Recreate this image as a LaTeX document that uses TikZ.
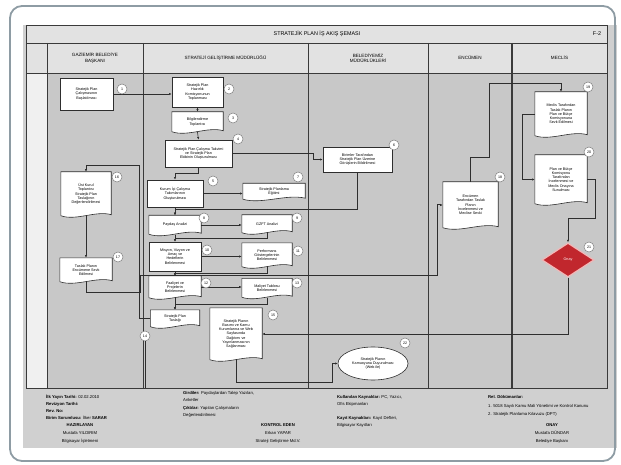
\documentclass[tikz,border=0pt]{standalone}
\usepackage{fontspec}
\setmainfont{Liberation Sans}
\usetikzlibrary{calc,shapes.geometric,arrows.meta}
\pgfdeclarelayer{bg}\pgfdeclarelayer{docbg}
\pgfsetlayers{bg,docbg,main}
\definecolor{framec}{HTML}{8E9CA4}
\definecolor{pagec}{HTML}{D0D0D0}
\definecolor{bodyc}{HTML}{C8C8C8}
\definecolor{headc}{HTML}{E2E2E2}
\definecolor{stripc}{HTML}{F0F0F0}
\definecolor{linec}{HTML}{3A3A3A}
\definecolor{connc}{HTML}{2E2E2E}
\definecolor{redc}{HTML}{C1272D}
\definecolor{glowc}{HTML}{F2B8B8}
\tikzset{
 every node/.style={font=\fontsize{3.7}{4.3}\selectfont},
 proc/.style={draw=connc, fill=white, line width=0.6pt, align=center, inner sep=0.5pt},
 docn/.style={align=center, inner sep=0.5pt},
 sz/.style 2 args={minimum width=#1pt, minimum height=#2pt},
 num/.style={circle, draw=gray, fill=white, line width=0.5pt, minimum size=10pt, inner sep=0pt, font=\fontsize{3.6}{4}\selectfont},
 conn/.style={draw=connc, line width=0.6pt, -{Latex[length=2.6pt,width=2.2pt]}},
 plainc/.style={draw=connc, line width=0.6pt},
 docstyle/.style={draw=connc, fill=white, line width=0.6pt},
 grid/.style={draw=linec, line width=0.9pt},
 hdr/.style={align=center, font=\fontsize{4.6}{5.4}\selectfont},
 foot/.style={anchor=west, font=\fontsize{4.2}{5}\selectfont, inner sep=0pt},
 footc/.style={anchor=center, font=\fontsize{4.2}{5}\selectfont, inner sep=0pt},
}
\newcommand\docpath[1]{%
 \begin{pgfonlayer}{docbg}
 \draw[docstyle] (#1.north west) -- (#1.north east) -- ($(#1.south east)+(0,-1.5)$)
  .. controls ($(#1.south east)!0.3!(#1.south west)+(0,-6)$) and ($(#1.south east)!0.7!(#1.south west)+(0,5)$) ..
  ($(#1.south west)+(0,-0.5)$) -- cycle;
 \end{pgfonlayer}}
\begin{document}
\begin{tikzpicture}[x=1pt,y=-1pt]
\useasboundingbox (0,0) rectangle (621,465);
% page and table
\begin{pgfonlayer}{bg}
\fill[white] (0,0) rectangle (621,465);
\fill[pagec] (23,25) rectangle (617,448);
\fill[headc] (26,25) rectangle (607,73);
\fill[bodyc] (47,73) rectangle (607,388);
\fill[stripc] (26,73) rectangle (47,388);
\draw[grid] (26,25) rectangle (607,388);
\draw[grid] (26,43) -- (607,43);
\draw[grid] (26,73) -- (607,73);
\draw[grid] (47,43) -- (47,388);
\draw[grid] (143,43) -- (143,388);
\draw[grid] (308,43) -- (308,388);
\draw[grid] (428,43) -- (428,388);
\draw[grid, line width=1.4pt] (512,43) -- (512,388);
\end{pgfonlayer}
\draw[framec, line width=1.8pt, rounded corners=12pt] (10,6) rectangle (615,461);
% title and headers
\node[font=\fontsize{5.4}{6.4}\selectfont] (title) at (317,34) {STRATEJİK PLAN İŞ AKIŞ ŞEMASI};
\node[font=\fontsize{5.4}{6.4}\selectfont] (code) at (597,34) {F-2};
\node[hdr] (h1) at (95,58) {GAZİEMİR BELEDİYE\\BAŞKANI};
\node[hdr] (h2) at (225.5,58) {STRATEJİ GELİŞTİRME MÜDÜRLÜĞÜ};
\node[hdr] (h3) at (368,58) {BELEDİYEMİZ\\MÜDÜRLÜKLERİ};
\node[hdr] (h4) at (470,58) {ENCÜMEN};
\node[hdr] (h5) at (559.5,58) {MECLİS};
% process nodes
\node[proc, sz={53}{32}] (n1) at (86.5,94) {Stratejik Plan\\Çalışmasının\\Başlatılması};
\node[proc, sz={51}{30}] (n2) at (197.5,92) {Stratejik Plan\\Hazırlık\\Komisyonunun\\Toplanması};
\node[docn, sz={51}{20}] (n3) at (197.5,122) {Bilgilendirme\\Toplantısı};
\node[proc, sz={67}{27}] (n4) at (198.5,153.5) {Stratejik Plan Çalışma Takvimi\\ve Stratejik Plan\\Ekibinin Oluşturulması};
\node[proc, sz={56}{27}] (n5) at (175,193.5) {Kurum İçi Çalışma\\Takımlarının\\Oluşturulması};
\node[proc, sz={69}{25}] (n6) at (357.5,159.5) {Birimler Tarafından\\Stratejik Plan Üzerine\\Görüşlerin Bildirilmesi};
\node[docn, sz={62}{16}] (n7) at (274,191.5) {Stratejik Planlama\\Eğitimi};
\node[docn, sz={52}{19}] (n8) at (175,225) {Paydaş Analizi};
\node[docn, sz={50}{18}] (n9) at (267,224) {GZFT Analizi};
\node[proc, sz={52}{29}] (n10) at (175,256.5) {Misyon, Vizyon ve\\Amaç ve\\Hedeflerin\\Belirlenmesi};
\node[docn, sz={50}{24}] (n11) at (267,255) {Performans\\Göstergelerinin\\Belirlenmesi};
\node[docn, sz={52}{22}] (n12) at (175,287) {Faaliyet ve\\Projelerin\\Belirlenmesi};
\node[docn, sz={50}{19}] (n13) at (267,288) {Maliyet Tablosu\\Belirlenmesi};
\node[docn, sz={49}{17}] (n14) at (175,318.5) {Stratejik Plan\\Taslağı};
\node[docn, sz={52}{52}] (n15) at (236,334) {Stratejik Planın\\Basımı ve Kamu\\Kurumlarına ve Web\\Sayfasında\\Dağıtımı ve\\Yayınlanmasının\\Sağlanması};
\node[docn, sz={50}{44}] (n16) at (86,194) {Üst Kurul\\Toplantısı\\Stratejik Plan\\Taslağının\\Değerlendirilmesi};
\node[docn, sz={52}{24}] (n17) at (86,270) {Taslak Planın\\Encümene Sevk\\Edilmesi};
\node[docn, sz={55}{46}] (n18) at (470.5,205) {Encümen\\Tarafından Taslak\\Planın\\İncelenmesi ve\\Meclise Sevki};
\node[docn, sz={52}{44}] (n19) at (561,114) {Meclis Tarafından\\Taslak Planın\\Plan ve Bütçe\\Komisyonuna\\Sevk Edilmesi};
\node[docn, sz={52}{49}] (n20) at (561,179.5) {Plan ve Bütçe\\Komisyonu\\Tarafından\\İncelenmesi ve\\Meclis Onayına\\Sunulması};
\node[diamond, fill=redc, draw=glowc, line width=1.2pt, aspect=1.6, inner sep=0pt, sz={52}{34}, text=white] (n21) at (568,260) {Onay};
\node[ellipse, draw=connc, fill=white, line width=0.6pt, align=center, inner sep=0pt, sz={70}{33}] (n22) at (373,363.5) {Stratejik Planın\\Kamuoyuna Duyurulması\\(Web ile)};
\docpath{n3}\docpath{n7}\docpath{n8}\docpath{n9}\docpath{n11}\docpath{n12}\docpath{n13}
\docpath{n14}\docpath{n15}\docpath{n16}\docpath{n17}\docpath{n18}\docpath{n19}\docpath{n20}
% connectors
\draw[conn] (n1) -- (n1 -| n2.west);
\draw[conn] (n2.south) -- (n3.north);
\draw[conn] (n3.south) -- (n4.north);
\draw[conn] (n4.east) -- ++(81,0) |- (n6.west);
\draw[conn] (n4.south) -- ++(0,6) -| (n5.north);
\draw[conn] (n5.east) -- (n5.east -| n7.west);
\draw[conn] (n5.south) -- (n8.north);
\draw[conn] (n6.south) |- (175,209) -- (n8.north);
\draw[conn] (n8.east) -- (n8.east -| n9.west);
\draw[conn] (n8.south) -- (n10.north);
\draw[conn] (n9.south) |- (175,238) -- (n10.north);
\draw[conn] (n10.east) -- (n10.east -| n11.west);
\draw[conn] (n10.south) -- (n12.north);
\draw[conn] (n11.south) |- (175,273) -- (n12.north);
\draw[conn] (n12.east) -- (n12.east -| n13.west);
\draw[conn] (n12.south) -- (n14.north);
\draw[conn] (n13.south) |- (175,304) -- (n14.north);
\draw[conn] (n14.west) -| (139,165) -| (n16.north);
\draw[conn] (n16.south) -- (n17.north);
\draw[conn, line width=1pt] (n17.south) |- (140,292) |- (437,275) |- (n18.west);
\draw[conn] (n18.north) |- (489,157) |- (561,83) -- (n19.north);
\draw[conn] (n19.west) -- ++(-13,0) |- (n20.west);
\draw[conn] (n20.east) -- ++(8,0) |- (568,218) -- (n21.north);
\draw[conn] (n21.south) |- (n15.east);
\draw[conn] (n15.south) |- (332,382) |- (n22.west);
% numbers
\node[num] (k1) at (122,89) {1};
\node[num] (k2) at (229,89) {2};
\node[num] (k3) at (233,118) {3};
\node[num] (k4) at (238,139) {4};
\node[num] (k5) at (213,181) {5};
\node[num] (k6) at (394,145) {6};
\node[num] (k7) at (298,177) {7};
\node[num] (k8) at (204,218) {8};
\node[num] (k9) at (297,218) {9};
\node[num] (k10) at (207,250) {10};
\node[num] (k11) at (298,251) {11};
\node[num] (k12) at (206,283) {12};
\node[num] (k13) at (297,283) {13};
\node[num] (k14) at (145,336) {14};
\node[num] (k15) at (273,315) {15};
\node[num] (k16) at (117,177) {16};
\node[num] (k17) at (118,257) {17};
\node[num] (k18) at (500,177) {18};
\node[num] (k19) at (588,87) {19};
\node[num] (k20) at (589,152) {20};
\node[num] (k21) at (589,247) {21};
\node[num] (k22) at (405,343) {22};
\draw[plainc] (k14.south) -- (145,388);
% footer
\node[foot] (f1) at (46,397) {\textbf{İlk Yayın Tarihi:} 02.02.2010};
\node[foot] (f2) at (46,404) {\textbf{Revizyon Tarihi:}};
\node[foot] (f3) at (46,411) {\textbf{Rev. No:}};
\node[foot] (f4) at (46,418) {\textbf{Birim Sorumlusu:} İlker \textbf{SARAR}};
\node[footc] (f5) at (80,425) {\textbf{HAZIRLAYAN}};
\node[footc] (f6) at (80,433) {Mustafa YILDIRIM};
\node[footc] (f7) at (80,441) {Bilgisayar İşletmeni};
\node[foot] (g1) at (183,393) {\textbf{Girdiler:} Paydaşlardan Talep Yazıları,};
\node[foot] (g2) at (183,400) {Anketler};
\node[foot] (g3) at (183,408) {\textbf{Çıktılar:} Yapılan Çalışmaların};
\node[foot] (g4) at (183,415) {Değerlendirilmesi};
\node[footc] (g5) at (278,425) {\textbf{KONTROL EDEN}};
\node[footc] (g6) at (278,433) {Erkan YAPAR};
\node[footc] (g7) at (278,441) {Strateji Geliştirme Md.V.};
\node[foot] (h1f) at (337,397) {\textbf{Kullanılan Kaynaklar:} PC, Yazıcı,};
\node[foot] (h2f) at (337,404) {Ofis Ekipmanları};
\node[foot] (h3f) at (337,418) {\textbf{Kayıt Kaynakları:} Kayıt Defteri,};
\node[foot] (h4f) at (337,425) {Bilgisayar Kayıtları};
\node[foot] (i1) at (488,397) {\textbf{Rel. Dökümanlar:}};
\node[foot] (i2) at (488,406) {1. 5018 Sayılı Kamu Mali Yönetimi ve Kontrol Kanunu};
\node[foot] (i3) at (488,414) {2. Stratejik Planlama Kılavuzu (DPT)};
\node[footc] (i4) at (552,425) {\textbf{ONAY}};
\node[footc] (i5) at (552,433) {Mustafa DÜNDAR};
\node[footc] (i6) at (552,441) {Belediye Başkanı};
\end{tikzpicture}
\end{document}
